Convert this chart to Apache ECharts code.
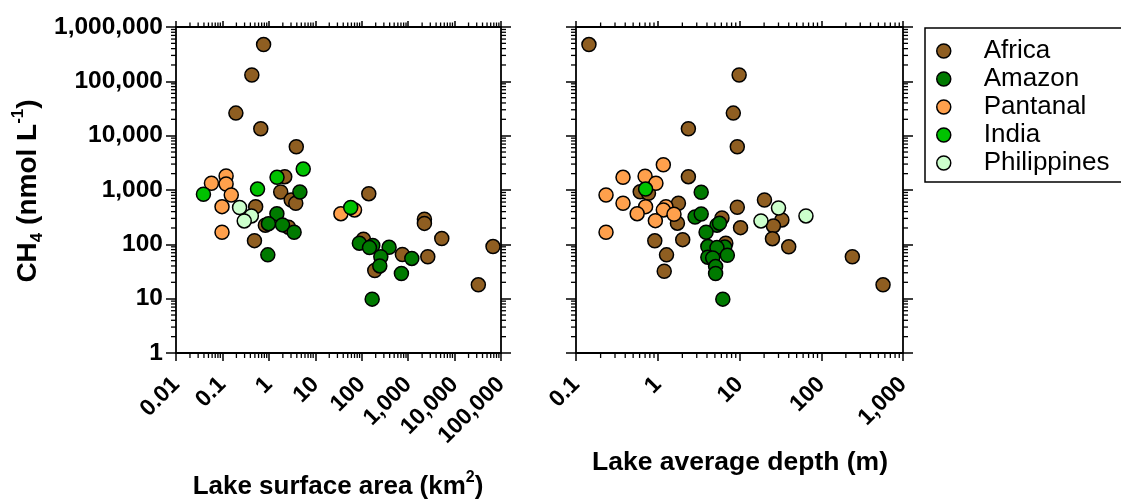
<!DOCTYPE html>
<html>
<head>
<meta charset="utf-8">
<script src="https://cdn.jsdelivr.net/npm/echarts@6/dist/echarts.min.js"></script>
<style>html,body{margin:0;padding:0;background:#fff}#c{width:1121px;height:502px}</style>
</head>
<body>
<div id="c"></div>
<script>
// ---- data ----
const seriesNames = ['Africa', 'Amazon', 'Pantanal', 'India', 'Philippines'];
const seriesColors = ['#8F5E21', '#007A00', '#FFA04C', '#00C200', '#CCFFCC'];

// [surface area km2, CH4 nmol/L]
const africaArea = [[0.77,475000],[0.43,131000],[0.195,26000],[0.67,13400],[3.9,6250],[2.2,1760],[1.8,920],[3.03,655],[3.8,570],[0.52,494],[0.84,225],[2.65,207],[0.49,117],[142,855],[2240,290],[2240,243],[5300,128],[67300,91],[109,124],[752,65],[2650,59],[191,33],[32500,18]];
const amazonArea = [[4.66,920],[1.49,367],[0.98,240],[1.97,228],[3.5,167],[0.95,64],[89,105],[173,95],[147,87],[389,88],[258,59],[1200,55],[245,40],[716,29],[168,9.8]];
const pantanalArea = [[0.12,1810],[0.058,1330],[0.12,1290],[0.155,810],[0.098,494],[0.098,167],[35.6,367],[70,430]];
const indiaArea = [[5.5,2430],[1.5,1710],[0.57,1040],[0.039,834],[58,477]];
const philippinesArea = [[0.234,477],[0.42,333],[0.295,270]];

// [average depth m, CH4 nmol/L]
const africaDepth = [[0.144,475000],[9.9,131000],[8.4,26000],[2.37,13400],[9.4,6250],[2.37,1760],[0.61,930],[0.77,870],[1.79,570],[1.74,245],[0.92,116],[2.02,122],[1.28,64],[1.2,32],[6.1,306],[9.4,481],[10.3,203],[6.8,105],[20.2,655],[33,281],[26,218],[25.3,127],[40,90],[240,59],[570,18]];
const amazonDepth = [[3.4,908],[2.86,319],[3.4,362],[5.3,225],[5.7,245],[3.9,167],[4.1,91],[6.6,89],[5.3,87],[7.1,63],[4.1,58],[4.7,56],[5.1,39],[5.1,29],[6.25,9.8]];
const pantanalDepth = [[1.17,2920],[0.376,1710],[0.70,1790],[0.95,1330],[0.233,810],[0.376,570],[0.71,494],[1.26,494],[1.17,430],[0.56,367],[1.58,358],[0.935,273],[0.233,167]];
const indiaDepth = [[0.71,1040]];
const philippinesDepth = [[30,467],[65,333],[18.3,270]];

const areaTickLabels = ['0.01','0.1','1','10','100','1,000','10,000','100,000'];
const depthTickLabels = ['0.1','1','10','100','1,000'];
const ch4TickLabels = ['1','10','100','1,000','10,000','100,000','1,000,000'];

const areaRange = [0.01, 100000];
const depthRange = [0.1, 1000];
const ch4Range = [1, 1000000];

// ---- chart ----
const FONT = "'Liberation Sans', Arial, Helvetica, sans-serif";
const AXW = 1.8;

function xAx(grid, pos, range, labels) {
  return {
    type: 'log', logBase: 10, gridIndex: grid, position: pos,
    min: range[0], max: range[1], interval: 1,
    splitNumber: Math.round(Math.log10(range[1] / range[0])),
    axisLine: { show: true, onZero: false, lineStyle: { color: '#000', width: AXW } },
    axisTick: { show: true, inside: false, length: pos === 'bottom' ? 8 : 6, lineStyle: { color: '#000', width: 1.5 } },
    splitLine: { show: false }, minorTick: { show: false },
    axisLabel: labels ? {
      show: true, rotate: 45, margin: 28, interval: 0, showMinLabel: true, showMaxLabel: true,
      fontFamily: FONT, fontWeight: 'bold', fontSize: 23, color: '#000',
      formatter: v => labels[Math.round(Math.log10(v / range[0]))]
    } : { show: false }
  };
}
function yAx(grid, pos, labels) {
  return {
    type: 'log', logBase: 10, gridIndex: grid, position: pos,
    min: ch4Range[0], max: ch4Range[1], interval: 1, splitNumber: 6,
    axisLine: { show: true, onZero: false, lineStyle: { color: '#000', width: AXW } },
    axisTick: { show: true, inside: false, length: 10, lineStyle: { color: '#000', width: 1.5 } },
    splitLine: { show: false }, minorTick: { show: false },
    axisLabel: labels ? {
      show: true, margin: 13, interval: 0, showMinLabel: true, showMaxLabel: true,
      fontFamily: FONT, fontWeight: 'bold', fontSize: 24.5, color: '#000',
      formatter: v => labels[Math.round(Math.log10(v))]
    } : { show: false }
  };
}

function minorTicks(xi, yi, xr, yr) {
  return {
    type: 'custom', xAxisIndex: xi, yAxisIndex: yi, silent: true, clip: false, z: 1,
    data: [[xr[0], yr[0]]],
    renderItem: function (params, api) {
      const cs = params.coordSys;
      const L = cs.x, R = cs.x + cs.width, T = cs.y, B = cs.y + cs.height;
      const ch = [];
      const ls = { stroke: '#000', lineWidth: 1.3 };
      for (let d = Math.round(Math.log10(xr[0])); d < Math.round(Math.log10(xr[1])); d++) {
        for (let k = 2; k <= 9; k++) {
          const px = api.coord([k * Math.pow(10, d), yr[0]])[0];
          ch.push({ type: 'line', shape: { x1: px, y1: B, x2: px, y2: B + 5 }, style: ls });
          ch.push({ type: 'line', shape: { x1: px, y1: T, x2: px, y2: T - 4.5 }, style: ls });
        }
      }
      for (let d = Math.round(Math.log10(yr[0])); d < Math.round(Math.log10(yr[1])); d++) {
        for (let k = 2; k <= 9; k++) {
          const py = api.coord([xr[0], k * Math.pow(10, d)])[1];
          ch.push({ type: 'line', shape: { x1: L, y1: py, x2: L - 5, y2: py }, style: ls });
          ch.push({ type: 'line', shape: { x1: R, y1: py, x2: R + 5, y2: py }, style: ls });
        }
      }
      return { type: 'group', children: ch };
    }
  };
}

const areaSets = [africaArea, amazonArea, pantanalArea, indiaArea, philippinesArea];
const depthSets = [africaDepth, amazonDepth, pantanalDepth, indiaDepth, philippinesDepth];

function scat(name, color, data, xi, yi) {
  return {
    type: 'scatter', name: name, xAxisIndex: xi, yAxisIndex: yi, data: data,
    symbol: 'circle', symbolSize: 14, z: 3,
    itemStyle: { color: color, borderColor: '#000', borderWidth: 1.5, opacity: 1 },
    emphasis: { disabled: true }
  };
}

const series = [minorTicks(0, 0, areaRange, ch4Range), minorTicks(2, 2, depthRange, ch4Range)];
seriesNames.forEach((n, i) => series.push(scat(n, seriesColors[i], areaSets[i], 0, 0)));
seriesNames.forEach((n, i) => series.push(scat(n, seriesColors[i], depthSets[i], 2, 2)));

const option = {
  animation: false,
  backgroundColor: '#fff',
  grid: [
    { left: 176, top: 27, width: 325, height: 326 },
    { left: 576, top: 27, width: 327, height: 326 }
  ],
  xAxis: [
    xAx(0, 'bottom', areaRange, areaTickLabels),
    xAx(0, 'top', areaRange, null),
    xAx(1, 'bottom', depthRange, depthTickLabels),
    xAx(1, 'top', depthRange, null)
  ],
  yAxis: [
    yAx(0, 'left', ch4TickLabels),
    yAx(0, 'right', null),
    yAx(1, 'left', null),
    yAx(1, 'right', null)
  ],
  legend: {
    data: seriesNames, orient: 'vertical', left: 931, top: 32, padding: 5,
    icon: 'circle', itemWidth: 14, itemHeight: 14, itemGap: 0,
    itemStyle: { borderColor: '#000', borderWidth: 1.5 },
    textStyle: { fontFamily: FONT, fontSize: 26, color: '#000', lineHeight: 28, padding: [0, 0, 0, 28] },
    selectedMode: false
  },
  graphic: [
    { type: 'polyline', shape: { points: [[1130, 28], [925, 28], [925, 182], [1130, 182]] }, style: { fill: 'none', stroke: '#000', lineWidth: 1.5 }, z: 0 },
    { type: 'text', x: 28, y: 191, rotation: Math.PI / 2,
      style: { text: '{b|CH}{s|4}{b| (nmol L}{p|-1}{b|)}', align: 'center', verticalAlign: 'middle',
        rich: {
          b: { fontFamily: FONT, fontWeight: 'bold', fontSize: 28, lineHeight: 36, fill: '#000', color: '#000' },
          s: { fontFamily: FONT, fontWeight: 'bold', fontSize: 17, lineHeight: 23, verticalAlign: 'bottom', fill: '#000', color: '#000' },
          p: { fontFamily: FONT, fontWeight: 'bold', fontSize: 17, lineHeight: 23, verticalAlign: 'top', fill: '#000', color: '#000' }
        } } },
    { type: 'text', x: 338, y: 487,
      style: { text: '{b|Lake surface area (km}{p|2}{b|)}', align: 'center', verticalAlign: 'middle',
        rich: {
          b: { fontFamily: FONT, fontWeight: 'bold', fontSize: 26, lineHeight: 34, fill: '#000', color: '#000' },
          p: { fontFamily: FONT, fontWeight: 'bold', fontSize: 16, lineHeight: 22, verticalAlign: 'top', fill: '#000', color: '#000' }
        } } },
    { type: 'text', x: 740, y: 463,
      style: { text: 'Lake average depth (m)', align: 'center', verticalAlign: 'middle',
        font: "bold 26.5px " + FONT, fill: '#000' } }
  ],
  series: series
};

const chart = echarts.init(document.getElementById('c'), null, { renderer: 'canvas' });
chart.setOption(option);
</script>
</body>
</html>
